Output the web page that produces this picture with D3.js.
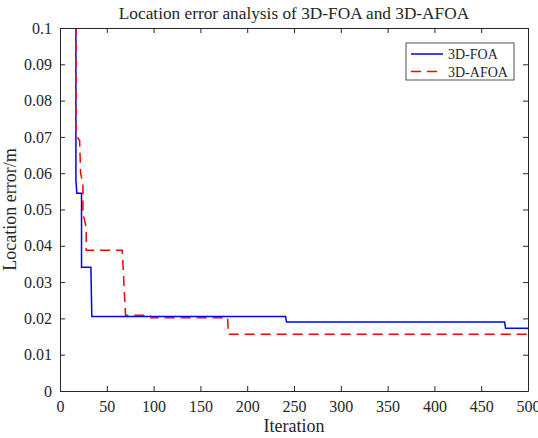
<!DOCTYPE html>
<html lang="en">
<head>
  <meta charset="UTF-8">
  <title>Location error analysis</title>
  <script src="https://cdnjs.cloudflare.com/ajax/libs/d3/7.8.5/d3.min.js"></script>
  <style>
    body { margin: 0; background: #fff; }
    svg text { font-family: "Liberation Serif", "Times New Roman", serif; fill: #262626; }
  </style>
</head>
<body>
  <div id="chart"></div>
  <script>
// data (step curves, vertex points)
var foaIter = [17, 17, 18, 23, 23, 33, 34, 241, 242, 475, 476, 500];
var foaErr = [0.105, 0.058, 0.0545, 0.0545, 0.0341, 0.0341, 0.0205, 0.0205, 0.019, 0.019, 0.0173, 0.0173];

var afoaIter = [17, 17, 21, 22, 24.5, 24.5, 28, 28, 66.5, 70, 96, 97, 179, 180, 500];
var afoaErr = [0.105, 0.0705, 0.069, 0.06, 0.057, 0.049, 0.045, 0.0388, 0.0388, 0.0209, 0.0209, 0.0202, 0.0202, 0.0156, 0.0156];

var xTicks = [0, 50, 100, 150, 200, 250, 300, 350, 400, 450, 500];
var yTicks = [0, 0.01, 0.02, 0.03, 0.04, 0.05, 0.06, 0.07, 0.08, 0.09, 0.1];
var seriesNames = ["3D-FOA", "3D-AFOA"];

var svgWidth = 538;
var svgHeight = 438;
var margin = { top: 28, right: 10, bottom: 47, left: 60 };
var width = 528 - margin.left;
var height = 391 - margin.top;
var serif = '"Liberation Serif", "Times New Roman", serif';

var svg = d3.select("#chart")
  .append("svg")
  .attr("width", svgWidth)
  .attr("height", svgHeight);

var chartGroup = svg.append("g")
  .attr("transform", `translate(${margin.left}, ${margin.top})`);

var x = d3.scaleLinear().domain([0, 500]).range([0, width]);
var y = d3.scaleLinear().domain([0, 0.1]).range([height, 0]);

// clip so the curves starting above 0.1 get cut at the frame
chartGroup.append("clipPath")
  .attr("id", "clip")
  .append("rect")
  .attr("width", width)
  .attr("height", height);

var line = d3.line()
  .x(d => x(d[0]))
  .y(d => y(d[1]));

var foaData = foaIter.map((v, i) => [v, foaErr[i]]);
var afoaData = afoaIter.map((v, i) => [v, afoaErr[i]]);

var lines = chartGroup.append("g").attr("clip-path", "url(#clip)");

lines.append("path")
  .datum(foaData)
  .attr("d", line)
  .attr("fill", "none")
  .attr("stroke", "#0000ff")
  .attr("stroke-width", 1.5);

lines.append("path")
  .datum(afoaData)
  .attr("d", line)
  .attr("fill", "none")
  .attr("stroke", "#ff0000")
  .attr("stroke-width", 1.5)
  .attr("stroke-dasharray", "10,6");

// axes, matlab style box with inward ticks
var tickLen = 5;
var bottomAxis = d3.axisBottom(x).tickValues(xTicks).tickSizeInner(-tickLen).tickSizeOuter(0).tickPadding(10);
var leftAxis = d3.axisLeft(y).tickValues(yTicks).tickSizeInner(-tickLen).tickSizeOuter(0).tickPadding(8)
  .tickFormat(d => d3.format("~g")(d));
var topAxis = d3.axisTop(x).tickValues(xTicks).tickSizeInner(-tickLen).tickSizeOuter(0).tickFormat("");
var rightAxis = d3.axisRight(y).tickValues(yTicks).tickSizeInner(-tickLen).tickSizeOuter(0).tickFormat("");

var axes = [
  chartGroup.append("g").attr("transform", `translate(0, ${height})`).call(bottomAxis),
  chartGroup.append("g").call(leftAxis),
  chartGroup.append("g").call(topAxis),
  chartGroup.append("g").attr("transform", `translate(${width}, 0)`).call(rightAxis)
];
axes.forEach(function(a) {
  a.attr("font-family", serif).attr("font-size", 16);
  a.selectAll("path, line").attr("stroke", "#262626").attr("stroke-width", 1);
  a.selectAll("text").style("font-family", serif).style("font-size", "16px").attr("fill", "#262626");
});

// title and axis labels
svg.append("text")
  .attr("x", margin.left + width / 2)
  .attr("y", 19)
  .attr("text-anchor", "middle")
  .style("font-size", "17.3px")
  .text("Location error analysis of 3D-FOA and 3D-AFOA");

svg.append("text")
  .attr("x", margin.left + width / 2)
  .attr("y", 432)
  .attr("text-anchor", "middle")
  .style("font-size", "18px")
  .text("Iteration");

svg.append("text")
  .attr("transform", "rotate(-90)")
  .attr("x", -(margin.top + height / 2))
  .attr("y", 16)
  .attr("text-anchor", "middle")
  .style("font-size", "18px")
  .text("Location error/m");

// legend
var legend = svg.append("g").attr("transform", "translate(406, 43)");
legend.append("rect")
  .attr("width", 108)
  .attr("height", 37)
  .attr("fill", "#fff")
  .attr("stroke", "#262626")
  .attr("stroke-width", 0.8);

var legendStyles = [
  { color: "#0000ff", dash: null },
  { color: "#ff0000", dash: "10,6" }
];
seriesNames.forEach(function(name, i) {
  var ly = 11 + i * 17.5;
  legend.append("line")
    .attr("x1", 5).attr("x2", 37)
    .attr("y1", ly).attr("y2", ly)
    .attr("stroke", legendStyles[i].color)
    .attr("stroke-width", 1.5)
    .attr("stroke-dasharray", legendStyles[i].dash);
  legend.append("text")
    .attr("x", 42)
    .attr("y", ly + 5)
    .style("font-size", "14px")
    .text(name);
});
  </script>
</body>
</html>
